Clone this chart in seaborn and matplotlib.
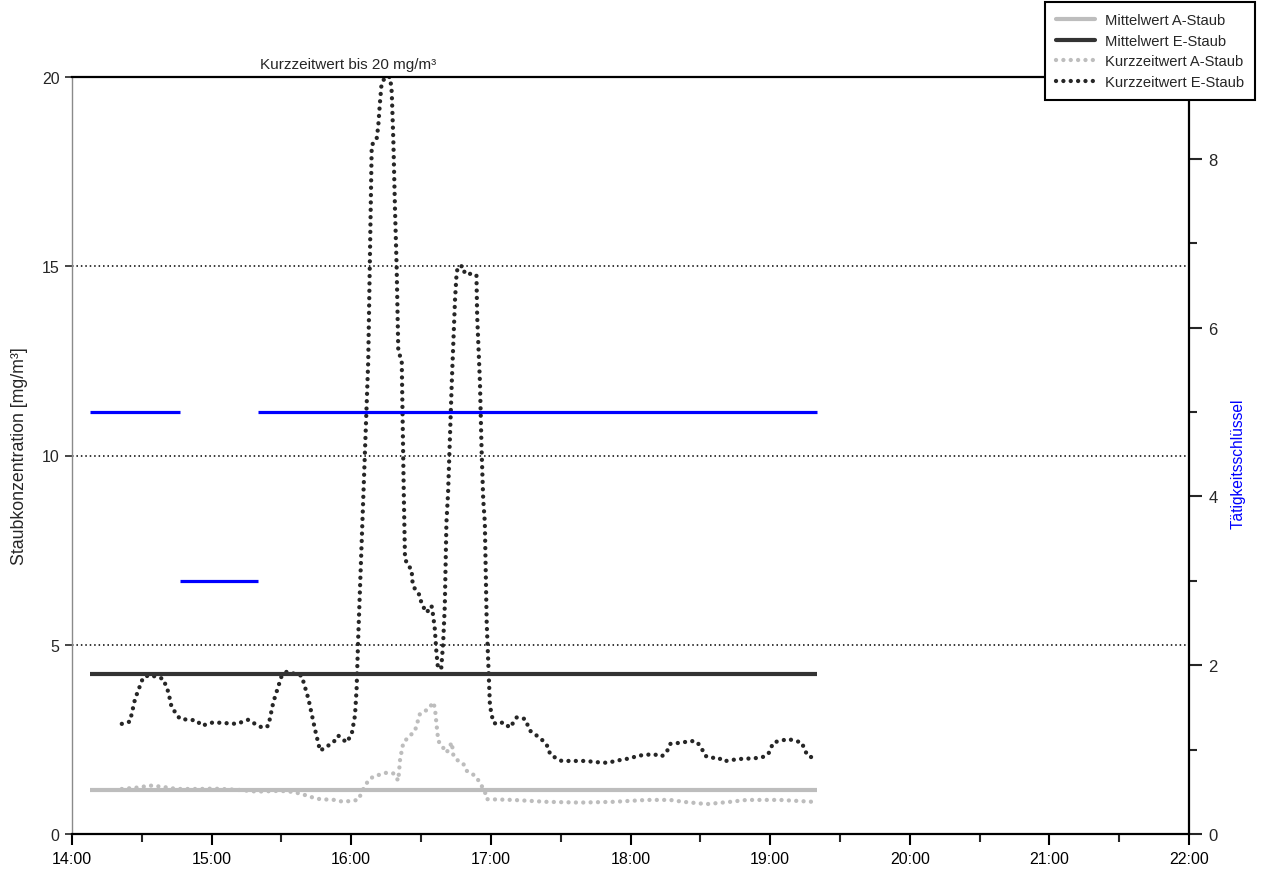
import numpy as np
import matplotlib
matplotlib.use("Agg")
import matplotlib.pyplot as plt
from matplotlib.ticker import MultipleLocator, FixedLocator, FuncFormatter
from matplotlib.lines import Line2D
import seaborn as sns

# Messbeginn 14:00; alle Zeiten in Minuten nach Messbeginn
T_START = 14.0

# Kurzzeitwerte E-Staub [mg/m³]
e_min = [21.4, 24.9, 27.1, 30.6, 33.5, 39.2, 41.4, 42.8, 46.4, 53.6,
         55.7, 60.7, 70.8, 75.8, 79.4, 82.2, 84.4, 86.5, 90.1, 92.3,
         98.7, 101.6, 104.4, 106.6, 112.3, 114.4, 118.0, 120.2, 121.6, 122.3,
         123.0, 127.3, 128.8, 130.9, 131.6, 132.3, 133.0, 134.5, 136.7, 137.4,
         138.1, 138.8, 139.5, 140.2, 141.7, 142.6, 143.1, 144.5, 145.9, 146.4,
         147.4, 149.5, 150.2, 152.4, 154.5, 155.2, 155.9, 156.6, 157.3, 158.7,
         159.5, 160.2, 160.9, 161.6, 163.2, 164.6, 165.3, 166.0, 168.1, 168.8,
         171.0, 173.8, 174.1, 175.3, 176.0, 176.7, 177.4, 178.2, 179.6, 181.0,
         182.5, 185.3, 188.2, 191.1, 194.7, 196.8, 199.7, 202.5, 204.7, 205.4,
         207.6, 210.4, 220.5, 226.9, 230.5, 233.3, 239.8, 243.4, 249.8, 253.4,
         255.6, 257.0, 262.7, 265.6, 268.5, 270.6, 272.0, 274.2, 277.7, 279.9,
         286.3, 292.8, 296.4, 299.2, 301.4, 304.3, 307.8, 310.7, 313.6, 315.0,
         316.4, 319.3]
e_val = [2.91, 2.97, 3.57, 4.14, 4.20, 4.10, 3.75, 3.35, 3.04, 3.00,
         2.86, 2.95, 2.91, 3.02, 2.88, 2.80, 2.86, 3.48, 4.18, 4.29,
         4.18, 3.57, 2.77, 2.20, 2.42, 2.60, 2.42, 2.64, 3.13, 3.83,
         5.20, 12.50, 18.20, 18.36, 18.70, 19.30, 19.80, 20.00, 20.00, 19.60,
         18.30, 16.50, 15.00, 12.80, 12.46, 8.90, 7.27, 7.08, 7.00, 6.60,
         6.47, 6.30, 6.08, 5.85, 6.03, 5.77, 5.42, 4.80, 4.36, 4.40,
         5.06, 6.03, 8.23, 9.00, 11.93, 14.13, 14.84, 15.00, 15.00, 14.80,
         14.80, 14.77, 13.70, 11.93, 10.17, 8.85, 8.23, 5.59, 3.39, 2.95,
         2.90, 2.95, 2.81, 3.08, 3.04, 2.73, 2.60, 2.46, 2.29, 2.11,
         2.02, 1.93, 1.93, 1.89, 1.88, 1.93, 2.00, 2.07, 2.11, 2.05,
         2.17, 2.38, 2.42, 2.46, 2.44, 2.26, 2.07, 2.01, 2.02, 1.92,
         1.98, 2.00, 2.02, 2.11, 2.42, 2.46, 2.51, 2.46, 2.42, 2.20,
         2.05, 2.01]

# Kurzzeitwerte A-Staub [mg/m³]
a_min = [21.4, 28.5, 33.5, 38.5, 45.0, 55.0, 60.7, 70.8, 79.4, 89.4,
         93.7, 98.0, 103.7, 106.6, 113.0, 116.6, 123.0, 125.2, 127.3, 129.5,
         135.2, 138.1, 140.2, 141.0, 142.4, 144.5, 147.4, 149.5, 153.1, 155.3,
         156.0, 156.7, 157.4, 158.9, 161.0, 163.2, 163.9, 166.0, 168.2, 169.6,
         173.2, 175.3, 177.5, 178.2, 189.6, 204.0, 218.3, 232.6, 247.0, 257.0,
         262.7, 272.8, 282.8, 289.9, 304.3, 318.6]
a_val = [1.19, 1.23, 1.28, 1.25, 1.19, 1.19, 1.20, 1.17, 1.12, 1.14,
         1.12, 1.07, 0.96, 0.92, 0.90, 0.85, 0.90, 1.19, 1.41, 1.52,
         1.62, 1.60, 1.41, 1.98, 2.42, 2.55, 2.73, 3.17, 3.30, 3.48,
         3.30, 2.86, 2.46, 2.33, 2.15, 2.42, 2.07, 1.93, 1.85, 1.67,
         1.54, 1.36, 1.10, 0.92, 0.90, 0.85, 0.83, 0.85, 0.90, 0.90,
         0.85, 0.79, 0.85, 0.90, 0.90, 0.85]

# Schichtmittelwerte [mg/m³] und Bezugszeitraum
mean_a = 1.16
mean_e = 4.23
mean_span = [7.7, 320.0]

# Tätigkeitsschlüssel je Zeitabschnitt
act_start = [7.7, 46.4, 80.0]
act_end = [46.4, 80.0, 320.0]
act_code = [5, 3, 5]

labels = ["Mittelwert A-Staub", "Mittelwert E-Staub",
          "Kurzzeitwert A-Staub", "Kurzzeitwert E-Staub"]


def hours(minutes):
    return T_START + np.asarray(minutes, dtype=float) / 60.0


sns.set_style("white")
plt.rcParams["font.family"] = ["Liberation Sans", "DejaVu Sans"]

W, H = 1264, 870
fig = plt.figure(figsize=(W / 100, H / 100), dpi=100)
ax = fig.add_axes([72 / W, 35 / H, (1189 - 72) / W, (835 - 78) / H])

DOTS = (0, (0.01, 1.7))
DOT_LW = 3.1
c_a_line, c_e_line = "#bdbdbd", "#333333"
c_a_dot, c_e_dot = "#bdbdbd", "#262626"

sns.lineplot(x=hours(a_min), y=a_val, ax=ax, color=c_a_dot, linewidth=DOT_LW,
             linestyle=DOTS, dash_capstyle="round", sort=False, estimator=None)
sns.lineplot(x=hours(e_min), y=e_val, ax=ax, color=c_e_dot, linewidth=DOT_LW,
             linestyle=DOTS, dash_capstyle="round", sort=False, estimator=None)
sns.lineplot(x=hours(mean_span), y=[mean_a, mean_a], ax=ax, color=c_a_line,
             linewidth=3.0, solid_capstyle="butt", estimator=None)
sns.lineplot(x=hours(mean_span), y=[mean_e, mean_e], ax=ax, color=c_e_line,
             linewidth=3.0, solid_capstyle="butt", estimator=None)

ax.set_xlim(14, 22)
ax.set_ylim(0, 20)
ax.xaxis.set_major_locator(MultipleLocator(1))
ax.xaxis.set_minor_locator(MultipleLocator(0.5))
ax.xaxis.set_major_formatter(FuncFormatter(lambda v, _: f"{int(round(v))}:00"))
ax.yaxis.set_major_locator(FixedLocator([0, 5, 10, 15, 20]))
ax.grid(False)
for level in [5, 10, 15]:
    ax.axhline(level, color="black", linewidth=1.1, linestyle=(0, (1, 1.9)), zorder=0.5)

ax.tick_params(axis="x", which="major", direction="out", length=8, width=1.5,
               pad=4, labelsize=11.5, colors="black", bottom=True)
ax.tick_params(axis="x", which="minor", direction="out", length=6, width=1.5,
               bottom=True)
ax.tick_params(axis="y", which="major", direction="out", length=5, width=1.2,
               pad=4, labelsize=11.5, left=True)

ax.spines["left"].set_color("#8a8a8a")
ax.spines["left"].set_linewidth(1.0)
for side in ["bottom", "top"]:
    ax.spines[side].set_color("black")
    ax.spines[side].set_linewidth(1.6)
ax.spines["right"].set_visible(False)

ax.set_xlabel("")
ax.set_ylabel("Staubkonzentration [mg/m³]", fontsize=12.8)
ax.yaxis.set_label_coords(-0.039, 0.5)

ax.text(hours(118.8), 20.15, "Kurzzeitwert bis 20 mg/m³", ha="center",
        va="bottom", fontsize=11)

# zweite Achse: Tätigkeitsschlüssel
ax2 = ax.twinx()
ax2.set_ylim(0, 757 / 84.4)
ax2.hlines(act_code, hours(act_start), hours(act_end), color="#0000ff",
           linewidth=2.3)
ax2.yaxis.set_major_locator(MultipleLocator(2))
ax2.yaxis.set_minor_locator(MultipleLocator(1))
ax2.tick_params(axis="y", which="major", direction="out", length=9, width=1.5,
                pad=5, labelsize=12, right=True)
ax2.tick_params(axis="y", which="minor", direction="out", length=6, width=1.5,
                right=True)
ax2.spines["right"].set_color("black")
ax2.spines["right"].set_linewidth(1.6)
for side in ["left", "top", "bottom"]:
    ax2.spines[side].set_visible(False)
ax2.set_ylabel("Tätigkeitsschlüssel", color="#0000ff", fontsize=11.2)
ax2.yaxis.set_label_coords(1.037, 0.49)

handles = [
    Line2D([], [], color=c_a_line, linewidth=3.0),
    Line2D([], [], color=c_e_line, linewidth=3.0),
    Line2D([], [], color=c_a_dot, linewidth=DOT_LW, linestyle=DOTS, dash_capstyle="round"),
    Line2D([], [], color=c_e_dot, linewidth=DOT_LW, linestyle=DOTS, dash_capstyle="round"),
]
leg = fig.legend(handles, labels, loc="upper right",
                 bbox_to_anchor=(1255 / W, 1 - 3 / H), frameon=True,
                 fancybox=False, edgecolor="black", framealpha=1,
                 fontsize=10.6, handlelength=2.6, handletextpad=0.7,
                 labelspacing=0.45, borderpad=0.75, borderaxespad=0)
leg.get_frame().set_linewidth(1.5)

fig.savefig("out.png", dpi=100)
